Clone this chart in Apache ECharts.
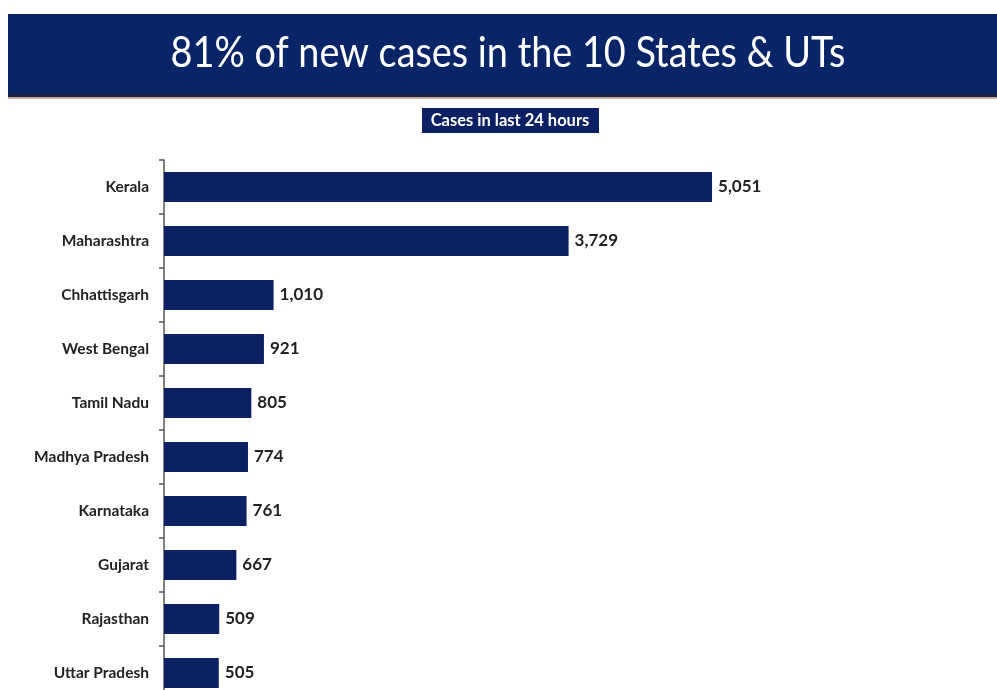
<!DOCTYPE html>
<html>
<head>
<meta charset="utf-8">
<script src="https://cdn.jsdelivr.net/npm/echarts@6/dist/echarts.min.js"></script>
<style>html,body{margin:0;padding:0;background:#fff;}#c{width:997px;height:690px;}</style>
</head>
<body>
<div id="c"></div>
<script>
const categories = ["Kerala","Maharashtra","Chhattisgarh","West Bengal","Tamil Nadu","Madhya Pradesh","Karnataka","Gujarat","Rajasthan","Uttar Pradesh"];
const cases = [5051,3729,1010,921,805,774,761,667,509,505];
const titleText = "81% of new cases in the 10 States & UTs";
const subtitleText = "Cases in last 24 hours";

const chart = echarts.init(document.getElementById('c'));
chart.setOption({
  animation: false,
  backgroundColor: '#ffffff',
  graphic: [
    {type:'rect', shape:{x:8,y:14,width:989,height:81}, style:{fill:'#0a2468'}, z:0},
    {type:'rect', shape:{x:8,y:93,width:989,height:4}, style:{fill:'#1a2148'}, z:0},
    {type:'rect', shape:{x:8,y:97,width:989,height:2}, style:{fill:'#c0ae9c'}, z:0},
    {type:'text', x:508, y:53, scaleX:0.9, style:{text:titleText, fill:'#ffffff', font:'normal 42px Lato', textAlign:'center', textVerticalAlign:'middle'}, z:2},
    {type:'rect', shape:{x:422,y:108,width:177,height:25}, style:{fill:'#0c2163'}, z:1},
    {type:'text', x:510, y:121, style:{text:subtitleText, fill:'#ffffff', font:'bold 16.5px Lato', textAlign:'center', textVerticalAlign:'middle'}, z:2}
  ],
  grid: {left:164, top:160, width:651, height:540, outerBoundsMode:'none', containLabel:false},
  xAxis: {type:'value', min:0, max:6000, show:false},
  yAxis: {
    type:'category', data:categories, inverse:true,
    axisLine:{show:true, lineStyle:{color:'#555', width:1.5}},
    axisTick:{show:true, inside:false, length:5, lineStyle:{color:'#555', width:1.5}},
    axisLabel:{color:'#222', fontFamily:'Lato', fontWeight:'bold', fontSize:15.5, margin:15}
  },
  series: [{
    type:'bar', data:cases, barWidth:30,
    itemStyle:{color:'#0c2163'},
    label:{show:true, position:'right', distance:6, color:'#222', fontFamily:'Lato', fontWeight:'bold', fontSize:17,
      formatter:p=>p.value.toLocaleString('en-US')}
  }]
});
</script>
</body>
</html>
